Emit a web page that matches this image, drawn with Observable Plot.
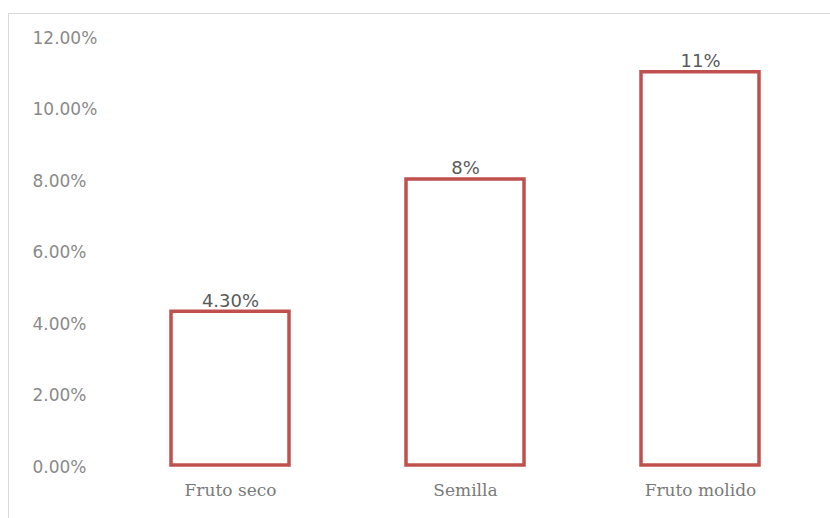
<!DOCTYPE html>
<html>
<head>
<meta charset="utf-8">
<script src="https://cdn.jsdelivr.net/npm/d3@7"></script>
<script src="https://cdn.jsdelivr.net/npm/@observablehq/plot@0.6"></script>
<style>
  html, body { margin: 0; padding: 0; background: #fff; }
  #wrap { position: relative; width: 830px; height: 518px; overflow: hidden; }
  #frame { position: absolute; left: 8px; top: 13px; width: 900px; height: 600px;
           border-top: 1px solid #d9d9d9; border-left: 1px solid #d9d9d9; box-sizing: border-box; }
  #chart { position: absolute; left: 0; top: 0; }
</style>
</head>
<body>
<div id="wrap"><div id="frame"></div><div id="chart"></div></div>
<script>
const categories = ["Fruto seco", "Semilla", "Fruto molido"];
const values = [0.043, 0.08, 0.11];
const valueLabels = ["4.30%", "8%", "11%"];
const yTicks = [0, 0.02, 0.04, 0.06, 0.08, 0.10, 0.12];

const data = categories.map((c, i) => ({category: c, value: values[i], label: valueLabels[i]}));

const serif = "'DejaVu Serif', serif";
const sans = "'DejaVu Sans', sans-serif";

const chart = Plot.plot({
  width: 830,
  height: 518,
  marginLeft: 111,
  marginRight: 12,
  marginTop: 36,
  marginBottom: 53,
  style: {background: "transparent", fontFamily: serif, fontSize: "17px"},
  x: {domain: categories, paddingInner: 0.5, paddingOuter: 0.25, label: null},
  y: {domain: [0, 0.12], label: null},
  marks: [
    Plot.axisY({ticks: yTicks, tickSize: 0, tickPadding: 0, textAnchor: "start", dx: -79, dy: 2,
                tickFormat: d => (d * 100).toFixed(2) + "%", fill: "#8a8a8a",
                fontFamily: sans, fontSize: 17, label: null}),
    Plot.axisX({tickSize: 0, tickPadding: 18, fill: "#7a7a7a", fontFamily: serif, fontSize: 17, label: null}),
    Plot.barY(data, {x: "category", y: "value", fill: "white", stroke: "#C0504D", strokeWidth: 3.5}),
    Plot.text(data, {x: "category", y: "value", text: "label", dy: -11, fill: "#5a5a5a",
                     fontFamily: sans, fontSize: 18})
  ]
});
document.getElementById("chart").appendChild(chart);
</script>
</body>
</html>
